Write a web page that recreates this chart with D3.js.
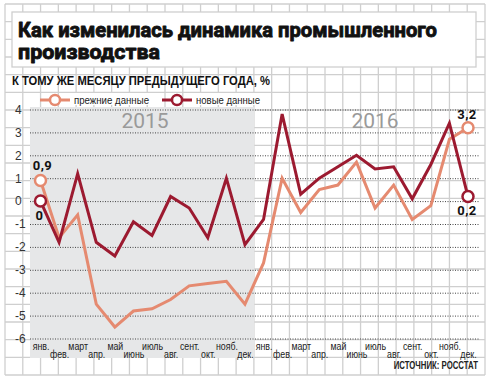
<!DOCTYPE html>
<html>
<head>
<meta charset="utf-8">
<script src="https://cdn.jsdelivr.net/npm/d3@7"></script>
<style>
  body { margin: 0; background: #fff; }
  svg { display: block; }
</style>
</head>
<body>
<div id="chart"></div>
<script>
// data
var months = ['янв.', 'фев.', 'март', 'апр.', 'май', 'июнь', 'июль', 'авг.', 'сент.', 'окт.', 'нояб.', 'дек.'];
var years = ['2015', '2016'];
var yTicks = [4, 3, 2, 1, 0, -1, -2, -3, -4, -5, -6];

var oldData = [
    0.9, -1.6, -0.6, -4.5, -5.5, -4.8, -4.7, -4.3, -3.7, -3.6, -3.5, -4.5, // 2015
    -2.7, 1.0, -0.5, 0.5, 0.7, 1.7, -0.3, 0.7, -0.8, -0.2, 2.7, 3.2        // 2016
];
var newData = [
    0, -1.8, 1.2, -1.8, -2.4, -0.9, -1.5, 0.2, -0.3, -1.6, 1.0, -1.9,      // 2015
    -0.8, 3.8, 0.3, 1.0, 1.5, 2.0, 1.4, 1.5, 0.1, 1.6, 3.4, 0.2            // 2016
];

var chart = (function(){
    var _w = 490, _h = 380;

    var _colors = {
        old: '#e58a70',   // salmon
        nu: '#9c1a30',    // dark red
        paper: '#cfcfcf', // graph paper lines
        shade: '#e6e7e8'
    };

    var _sans = '"Liberation Sans", Arial, sans-serif';

    var _svg = null;

    function init(){
        _svg = d3.select('#chart').append('svg')
            .attr('width', _w)
            .attr('height', _h);
    }

    function _paper(){
        // graph paper background
        var g = _svg.append('g');
        var gx = d3.scaleLinear().domain([0, 27]).range([5, 485]);
        var gy = d3.scaleLinear().domain([0, 21]).range([4, 375]);

        g.selectAll('line.v').data(d3.range(28)).enter().append('line')
            .attr('x1', function(d){ return gx(d); })
            .attr('x2', function(d){ return gx(d); })
            .attr('y1', 4).attr('y2', 375)
            .attr('stroke', _colors.paper).attr('stroke-width', 1.3);
        g.selectAll('line.h').data(d3.range(22)).enter().append('line')
            .attr('y1', function(d){ return gy(d); })
            .attr('y2', function(d){ return gy(d); })
            .attr('x1', 5).attr('x2', 485)
            .attr('stroke', _colors.paper).attr('stroke-width', 1.3);

        // title box
        _svg.append('rect')
            .attr('x', 12).attr('y', 12)
            .attr('width', 464).attr('height', 55)
            .attr('fill', '#fff')
            .attr('stroke', _colors.paper).attr('stroke-width', 1.3);
    }

    function _title(){
        var t = _svg.append('text')
            .attr('font-family', 'Roboto, sans-serif')
            .attr('font-weight', 'bold')
            .attr('font-size', 21)
            .attr('fill', '#111')
            .attr('stroke', '#111')
            .attr('stroke-width', 0.9)
            .attr('stroke-linejoin', 'round');
        t.append('tspan').attr('x', 18).attr('y', 37)
            .attr('textLength', 419).attr('lengthAdjust', 'spacingAndGlyphs')
            .text('Как изменилась динамика промышленного');
        t.append('tspan').attr('x', 18).attr('y', 58.5)
            .attr('textLength', 142).attr('lengthAdjust', 'spacingAndGlyphs')
            .text('производства');

        _svg.append('text')
            .attr('x', 12).attr('y', 84.5)
            .attr('font-family', _sans)
            .attr('font-weight', 'bold')
            .attr('font-size', 12)
            .attr('textLength', 258).attr('lengthAdjust', 'spacingAndGlyphs')
            .attr('fill', '#111')
            .text('К ТОМУ ЖЕ МЕСЯЦУ ПРЕДЫДУЩЕГО ГОДА, %');
    }

    function draw(){
        _paper();
        _title();

        var idx = d3.range(oldData.length);
        var x = d3.scalePoint().domain(idx).range([40.5, 468]);
        var y = d3.scaleLinear().domain([-6, 4]).range([338.5, 109.5]);

        // 2015 shade
        _svg.append('rect')
            .attr('x', 30).attr('y', 107)
            .attr('width', (x(11) + x(12)) / 2 - 30)
            .attr('height', 251)
            .attr('fill', _colors.shade);

        // years
        _svg.selectAll('text.year').data(years).enter().append('text')
            .attr('class', 'year')
            .attr('x', function(d, i){ return i ? 375 : 145; })
            .attr('y', 128)
            .attr('text-anchor', 'middle')
            .attr('font-family', 'Roboto, sans-serif')
            .attr('font-size', 21)
            .attr('fill', '#9a9a9a')
            .text(function(d){ return d; });

        // y axis with dotted grid
        var yAxis = d3.axisLeft(y)
            .tickValues(yTicks)
            .tickSize(-450)
            .tickFormat(function(d){ return String(d); });
        var ga = _svg.append('g')
            .attr('transform', 'translate(30,0)')
            .call(yAxis);
        ga.select('.domain').remove();
        ga.selectAll('.tick line')
            .attr('stroke', '#444')
            .attr('stroke-width', 1)
            .attr('stroke-dasharray', '1,1.5');
        ga.selectAll('.tick text')
            .attr('x', -15)
            .attr('text-anchor', 'start')
            .attr('font-family', _sans)
            .attr('font-size', 12)
            .attr('fill', '#333');

        // month labels, staggered
        var xAxis = d3.axisBottom(x)
            .tickSize(0)
            .tickFormat(function(d){ return months[d % 12]; });
        var gx = _svg.append('g')
            .attr('transform', 'translate(0,341)')
            .call(xAxis);
        gx.select('.domain').remove();
        gx.selectAll('.tick text')
            .attr('y', function(d){ return d % 2 ? 17 : 9; })
            .attr('dy', 0)
            .attr('transform', 'scale(0.8,1)')
            .attr('font-family', _sans)
            .attr('font-size', 11)
            .attr('fill', '#222');

        // lines
        var line = d3.line()
            .x(function(d, i){ return x(i); })
            .y(function(d){ return y(d); });

        _svg.append('path').datum(oldData)
            .attr('d', line)
            .attr('fill', 'none')
            .attr('stroke', _colors.old)
            .attr('stroke-width', 3);
        _svg.append('path').datum(newData)
            .attr('d', line)
            .attr('fill', 'none')
            .attr('stroke', _colors.nu)
            .attr('stroke-width', 3);

        // end circles
        var ends = [
            {s: oldData, i: 0, c: _colors.old, label: '0,9', dx: 2, dy: -10},
            {s: newData, i: 0, c: _colors.nu, label: '0', dx: -1, dy: 19},
            {s: oldData, i: 23, c: _colors.old, label: '3,2', dx: -1, dy: -9},
            {s: newData, i: 23, c: _colors.nu, label: '0,2', dx: -1, dy: 18}
        ];
        _svg.selectAll('circle.end').data(ends).enter().append('circle')
            .attr('class', 'end')
            .attr('cx', function(d){ return x(d.i); })
            .attr('cy', function(d){ return y(d.s[d.i]); })
            .attr('r', 5.5)
            .attr('fill', '#fff')
            .attr('stroke', function(d){ return d.c; })
            .attr('stroke-width', 2.5);
        _svg.selectAll('text.end').data(ends).enter().append('text')
            .attr('class', 'end')
            .attr('x', function(d){ return x(d.i) + d.dx; })
            .attr('y', function(d){ return y(d.s[d.i]) + d.dy; })
            .attr('text-anchor', 'middle')
            .attr('font-family', 'Roboto, sans-serif')
            .attr('font-weight', 'bold')
            .attr('font-size', 13)
            .attr('letter-spacing', 0.5)
            .attr('fill', '#111')
            .text(function(d){ return d.label; });

        // legend
        var legend = [
            {label: 'прежние данные', c: _colors.old, x: 40, len: 75},
            {label: 'новые данные', c: _colors.nu, x: 162, len: 64}
        ];
        var lg = _svg.selectAll('g.legend').data(legend).enter().append('g')
            .attr('class', 'legend')
            .attr('transform', function(d){ return 'translate(' + d.x + ',100)'; });
        lg.append('rect')
            .attr('x', 32).attr('y', -7)
            .attr('width', function(d){ return d.len + 4; })
            .attr('height', 12)
            .attr('fill', '#fff');
        lg.append('line')
            .attr('x1', 0).attr('x2', 30)
            .attr('stroke', function(d){ return d.c; })
            .attr('stroke-width', 3);
        lg.append('circle')
            .attr('cx', 15).attr('r', 5)
            .attr('fill', '#fff')
            .attr('stroke', function(d){ return d.c; })
            .attr('stroke-width', 2.5);
        lg.append('text')
            .attr('x', 34).attr('y', 4)
            .attr('font-family', _sans)
            .attr('font-size', 11.5)
            .attr('textLength', function(d){ return d.len; })
            .attr('lengthAdjust', 'spacingAndGlyphs')
            .attr('fill', '#222')
            .text(function(d){ return d.label; });

        // source
        _svg.append('g')
            .attr('transform', 'translate(478,369) scale(0.78,1)')
            .append('text')
            .attr('text-anchor', 'end')
            .attr('font-family', _sans)
            .attr('font-weight', 'bold')
            .attr('font-size', 10)
            .attr('fill', '#222')
            .text('ИСТОЧНИК: РОССТАТ');
    }

    return {
        init: init,
        draw: draw
    };
})();

chart.init();
chart.draw();
</script>
</body>
</html>
